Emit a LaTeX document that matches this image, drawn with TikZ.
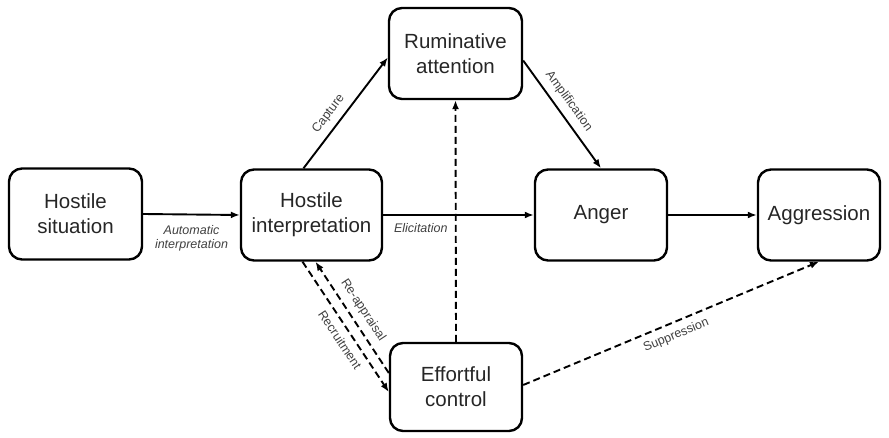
\documentclass[tikz,border=0pt]{standalone}
\usepackage{fontspec}
\setmainfont{Liberation Sans}
\usepackage{tikz}
\usetikzlibrary{arrows.meta}

\begin{document}
\begin{tikzpicture}[x=1pt, y=-1pt,
  box/.style={draw, line width=2.4pt, rounded corners=13pt, minimum width=133pt,
              minimum height=91pt, align=center, inner sep=4pt,
              font=\fontsize{20.5}{25}\selectfont, text=black!85},
  arrow/.style={-{Latex[length=9pt,width=7pt]}, line width=1.9pt},
  dasharrow/.style={arrow, dash pattern=on 7pt off 4pt},
  lbl/.style={font=\fontsize{12.5}{16}\selectfont, text=black!75, align=center},
  ilbl/.style={lbl, font=\fontsize{12.5}{16}\selectfont\itshape},
]
  \useasboundingbox (0,0) rectangle (889,438);

  % Boxes
  \node[box]                     (hs)  at (75.5,214)  {Hostile\\situation};
  \node[box, minimum width=141pt] (hi)  at (311.5,215) {Hostile\\interpretation};
  \node[box]                     (ra)  at (455.5,53.5) {Ruminative\\attention};
  \node[box, minimum width=132pt] (ang) at (601,215)   {Anger};
  \node[box, minimum width=122pt] (agg) at (819,215)   {Aggression};
  \node[box, minimum width=132pt, minimum height=88pt] (ec) at (456,387) {Effortful\\control};

  % Solid arrows
  \draw[arrow] (hs.east) -- node[ilbl, below=7pt] {Automatic\\[-2pt]interpretation} (hi.west);
  \draw[arrow] (hi.east) -- node[ilbl, below=4pt, pos=0.25] {Elicitation} (ang.west);
  \draw[arrow] (ang.east) -- (agg.west);
  \draw[arrow] ([xshift=-8pt]hi.north) -- node[lbl, above=3pt, sloped, pos=0.42] {Capture} ([yshift=-4pt]ra.west);
  \draw[arrow] ([yshift=-7pt]ra.east) -- node[lbl, above=3pt, sloped, pos=0.45] {Amplification} (ang.north);

  % Dashed arrows from effortful control
  \draw[dasharrow] (ec.north) -- (ra.south);
  \draw[dasharrow] ([xshift=-9pt]hi.south) -- node[lbl, below=3pt, sloped, pos=0.55] {Recruitment} ([yshift=-5pt]ec.west);
  \draw[dasharrow] ([yshift=14pt]ec.west) -- node[lbl, above=3pt, sloped] {Re-appraisal} ([xshift=4pt]hi.south);
  \draw[dasharrow] ([yshift=2pt]ec.east) -- node[lbl, below=3pt, sloped] {Suppression} (agg.south);
\end{tikzpicture}
\end{document}
